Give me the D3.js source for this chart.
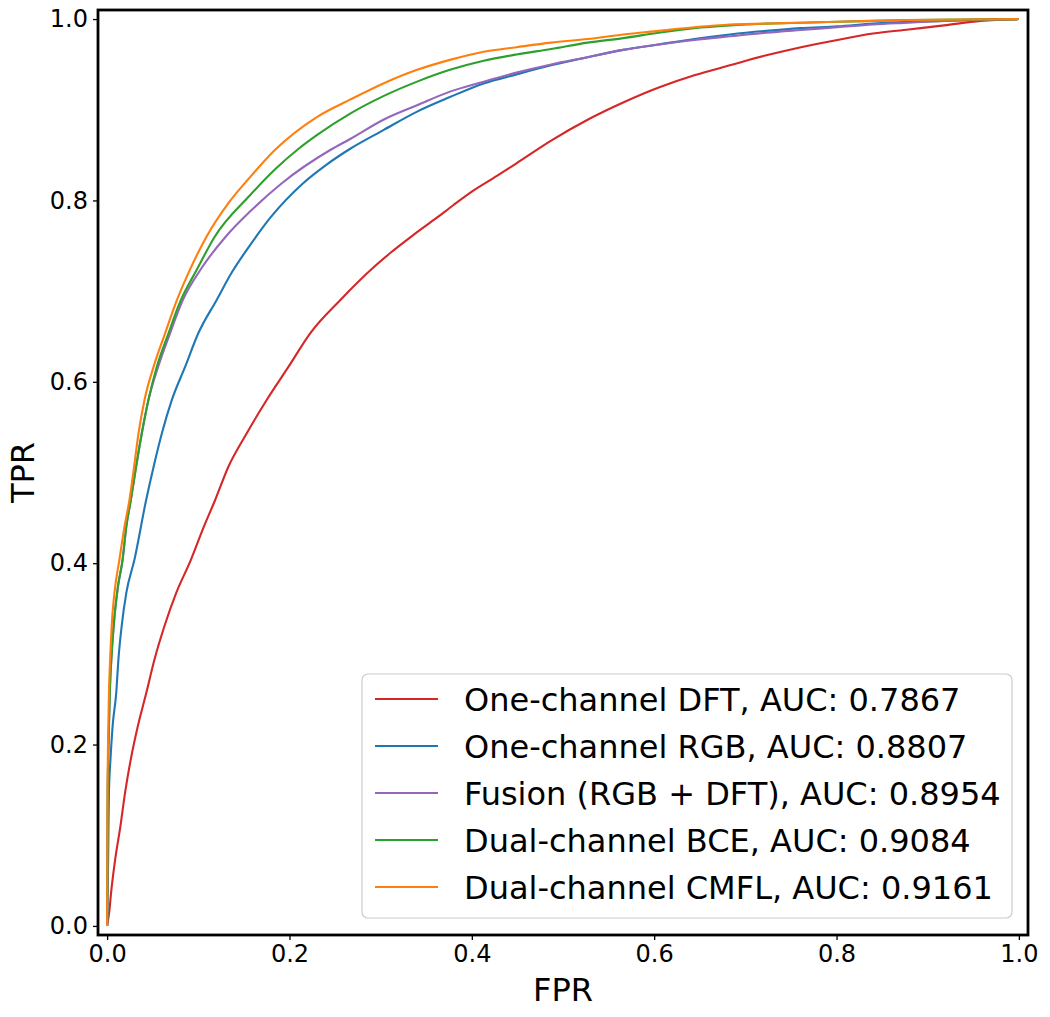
<!DOCTYPE html>
<html lang="en">
<head>
    <meta charset="UTF-8">
    <title>ROC curves</title>
    <script src="https://d3js.org/d3.v7.min.js"></script>
    <style>
        body { margin: 0; background: #fff; }
        text { font-family: "DejaVu Sans", sans-serif; }
    </style>
</head>
<body>
    <svg id="roc" width="1050" height="1017"></svg>

    <script>
        // series names (legend order = draw order)
        const names = [
            "One-channel DFT, AUC: 0.7867",
            "One-channel RGB, AUC: 0.8807",
            "Fusion (RGB + DFT), AUC: 0.8954",
            "Dual-channel BCE, AUC: 0.9084",
            "Dual-channel CMFL, AUC: 0.9161"
        ];
        const colors = ["#d62728", "#1f77b4", "#9467bd", "#2ca02c", "#ff7f0e"];

        // values (FPR, TPR)
        const fprDFT = [0, 0.0026, 0.0044, 0.0088, 0.0146, 0.0197, 0.026, 0.0336, 0.043, 0.052, 0.063, 0.0757, 0.092, 0.106, 0.1185, 0.133, 0.153, 0.175, 0.199, 0.2227, 0.2556, 0.292, 0.3105, 0.336, 0.3617, 0.380, 0.402, 0.4275, 0.449, 0.487, 0.527, 0.566, 0.605, 0.644, 0.683, 0.723, 0.761, 0.801, 0.840, 0.879, 0.918, 0.958, 1];
        const tprDFT = [0, 0.018, 0.037, 0.073, 0.110, 0.147, 0.184, 0.220, 0.257, 0.294, 0.331, 0.367, 0.404, 0.440, 0.4697, 0.5064, 0.543, 0.580, 0.6167, 0.6535, 0.690, 0.726, 0.742, 0.762, 0.781, 0.795, 0.811, 0.827, 0.841, 0.866, 0.889, 0.908, 0.9245, 0.938, 0.949, 0.960, 0.969, 0.977, 0.984, 0.9885, 0.993, 0.998, 1];

        const fprRGB = [0, 0.0007, 0.0015, 0.002, 0.0037, 0.006, 0.010, 0.0124, 0.016, 0.021, 0.030, 0.0428, 0.051, 0.060, 0.071, 0.0856, 0.100, 0.120, 0.137, 0.157, 0.179, 0.215, 0.240, 0.2666, 0.303, 0.340, 0.376, 0.413, 0.449, 0.487, 0.527, 0.566, 0.605, 0.644, 0.683, 0.723, 0.761, 0.801, 0.840, 0.879, 0.918, 1];
        const tprRGB = [0, 0.037, 0.110, 0.147, 0.184, 0.220, 0.257, 0.294, 0.331, 0.367, 0.404, 0.4697, 0.5064, 0.543, 0.580, 0.6167, 0.6535, 0.690, 0.721, 0.751, 0.781, 0.819, 0.839, 0.857, 0.8776, 0.898, 0.914, 0.929, 0.939, 0.949, 0.958, 0.966, 0.972, 0.978, 0.983, 0.987, 0.990, 0.992, 0.995, 0.997, 0.998, 1];

        const fprFusion = [0, 0.0007, 0.0015, 0.003, 0.005, 0.008, 0.012, 0.017, 0.021, 0.026, 0.0318, 0.038, 0.0453, 0.056, 0.069, 0.083, 0.104, 0.130, 0.157, 0.1916, 0.2447, 0.267, 0.303, 0.340, 0.376, 0.413, 0.449, 0.487, 0.527, 0.566, 0.605, 0.644, 0.683, 0.723, 0.761, 0.801, 0.840, 0.879, 0.918, 1];
        const tprFusion = [0, 0.15, 0.20, 0.26, 0.30, 0.34, 0.375, 0.404, 0.44, 0.4697, 0.5064, 0.543, 0.580, 0.6167, 0.6535, 0.690, 0.726, 0.760, 0.788, 0.819, 0.8556, 0.868, 0.889, 0.905, 0.920, 0.931, 0.941, 0.950, 0.958, 0.966, 0.972, 0.977, 0.981, 0.985, 0.988, 0.991, 0.994, 0.996, 0.998, 1];

        const fprBCE = [0, 0.0007, 0.0015, 0.003, 0.005, 0.008, 0.012, 0.017, 0.021, 0.026, 0.0318, 0.038, 0.0453, 0.0545, 0.0673, 0.080, 0.098, 0.118, 0.157, 0.186, 0.210, 0.230, 0.267, 0.303, 0.340, 0.376, 0.413, 0.449, 0.487, 0.527, 0.566, 0.605, 0.644, 0.683, 0.723, 0.761, 0.801, 0.879, 1];
        const tprBCE = [0, 0.15, 0.20, 0.26, 0.30, 0.34, 0.375, 0.404, 0.44, 0.4697, 0.5064, 0.543, 0.580, 0.6167, 0.6535, 0.688, 0.723, 0.760, 0.806, 0.836, 0.857, 0.872, 0.896, 0.915, 0.931, 0.944, 0.954, 0.961, 0.967, 0.974, 0.979, 0.985, 0.990, 0.993, 0.995, 0.996, 0.997, 0.999, 1];

        const fprCMFL = [0, 0.0005, 0.001, 0.002, 0.0033, 0.005, 0.008, 0.0135, 0.019, 0.0245, 0.0296, 0.0344, 0.041, 0.051, 0.0636, 0.0765, 0.091, 0.109, 0.133, 0.157, 0.184, 0.230, 0.267, 0.303, 0.340, 0.376, 0.413, 0.449, 0.487, 0.527, 0.566, 0.605, 0.644, 0.683, 0.723, 0.761, 0.801, 0.879, 1];
        const tprCMFL = [0, 0.15, 0.20, 0.257, 0.294, 0.331, 0.367, 0.404, 0.44, 0.4697, 0.5064, 0.543, 0.580, 0.6167, 0.6535, 0.690, 0.724, 0.760, 0.797, 0.826, 0.8556, 0.892, 0.9114, 0.929, 0.944, 0.955, 0.964, 0.969, 0.974, 0.978, 0.983, 0.987, 0.991, 0.994, 0.995, 0.996, 0.997, 0.999, 1];

        const tickValues = [0, 0.2, 0.4, 0.6, 0.8, 1.0];

        const series = [
            [fprDFT, tprDFT],
            [fprRGB, tprRGB],
            [fprFusion, tprFusion],
            [fprBCE, tprBCE],
            [fprCMFL, tprCMFL]
        ].map(([fx, ty], i) => ({
            name: names[i],
            color: colors[i],
            points: fx.map((f, j) => [f, ty[j]])
        }));

        // layout
        const margin = { left: 98, top: 10 };
        const plotW = 930, plotH = 925;

        const svg = d3.select("#roc");
        const g = svg.append("g")
            .attr("transform", "translate(" + margin.left + "," + margin.top + ")");

        const x = d3.scaleLinear().domain([-0.01, 1.01]).range([0, plotW]);
        const y = d3.scaleLinear().domain([-0.01, 1.01]).range([plotH, 0]);

        // curves
        const line = d3.line()
            .x(d => x(d[0]))
            .y(d => y(d[1]))
            .curve(d3.curveMonotoneX);

        g.append("g")
            .selectAll("path")
            .data(series)
            .enter()
            .append("path")
            .attr("d", d => line(d.points))
            .attr("fill", "none")
            .attr("stroke", d => d.color)
            .attr("stroke-width", 2.1)
            .attr("stroke-linejoin", "round");

        // axes
        const xAxis = d3.axisBottom(x)
            .tickValues(tickValues)
            .tickFormat(d3.format(".1f"))
            .tickSize(5)
            .tickSizeOuter(0)
            .tickPadding(5);

        const yAxis = d3.axisLeft(y)
            .tickValues(tickValues)
            .tickFormat(d3.format(".1f"))
            .tickSize(5)
            .tickSizeOuter(0)
            .tickPadding(5);

        const gx = g.append("g")
            .attr("transform", "translate(0," + plotH + ")")
            .call(xAxis);
        const gy = g.append("g").call(yAxis);

        [gx, gy].forEach(a => {
            a.select(".domain").remove();
            a.selectAll(".tick line").attr("stroke", "#000").attr("stroke-width", 1.3);
            a.selectAll(".tick text")
                .attr("fill", "#000")
                .style("font-size", "24px")
                .style("font-family", "'DejaVu Sans', sans-serif");
        });

        // frame
        g.append("rect")
            .attr("width", plotW)
            .attr("height", plotH)
            .attr("fill", "none")
            .attr("stroke", "#000")
            .attr("stroke-width", 2.8);

        // axis labels
        svg.append("text")
            .attr("x", margin.left + plotW / 2)
            .attr("y", 1001)
            .attr("text-anchor", "middle")
            .style("font-size", "32px")
            .text("FPR");

        svg.append("text")
            .attr("transform", "translate(34," + (margin.top + plotH / 2) + ") rotate(-90)")
            .attr("text-anchor", "middle")
            .style("font-size", "32px")
            .text("TPR");

        // legend
        const legend = svg.append("g").attr("transform", "translate(362,674)");
        legend.append("rect")
            .attr("width", 650)
            .attr("height", 244)
            .attr("rx", 6)
            .attr("fill", "#fff")
            .attr("fill-opacity", 0.8)
            .attr("stroke", "#cccccc")
            .attr("stroke-width", 1.2);

        const items = legend.selectAll(".item")
            .data(series)
            .enter()
            .append("g")
            .attr("class", "item")
            .attr("transform", (d, i) => "translate(0," + (25 + i * 47) + ")");

        items.append("line")
            .attr("x1", 13).attr("x2", 76)
            .attr("stroke", d => d.color)
            .attr("stroke-width", 2.1);

        items.append("text")
            .attr("x", 102)
            .attr("dy", "0.36em")
            .style("font-size", "32px")
            .text(d => d.name);
    </script>
</body>
</html>
